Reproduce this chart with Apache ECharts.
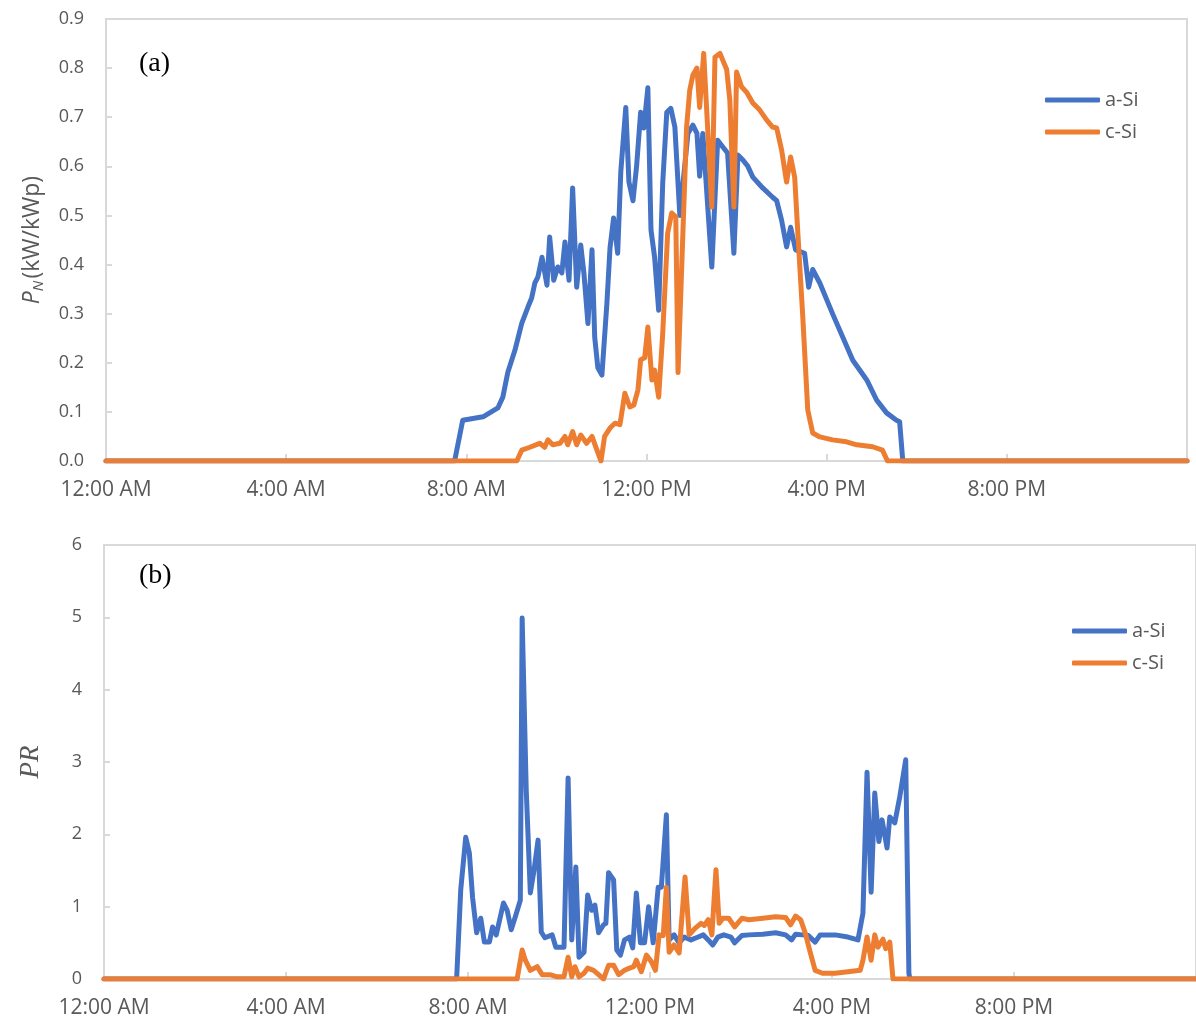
<!DOCTYPE html>
<html>
<head>
<meta charset="utf-8">
<script src="https://cdn.jsdelivr.net/npm/echarts@6/dist/echarts.min.js"></script>
<style>
  html, body { margin: 0; padding: 0; background: #fff; }
  #chart { width: 1196px; height: 1021px; }
</style>
</head>
<body>
<div id="chart"></div>
<script>
// tick labels for the time axis (hours 0,4,8,...)
var timeLabels = ['12:00 AM', '4:00 AM', '8:00 AM', '12:00 PM', '4:00 PM', '8:00 PM', '12:00 AM'];
var seriesNames = ['a-Si', 'c-Si'];

// (a) normalised power, time in hours
var pnTimeA = [0, 7.74, 7.92, 8.37, 8.70, 8.81, 8.92, 9.08, 9.23, 9.37, 9.45, 9.52, 9.59, 9.68, 9.79, 9.85, 9.94, 10.03, 10.12, 10.19, 10.28, 10.36, 10.45, 10.54, 10.61, 10.70, 10.79, 10.85, 10.92, 11.01, 11.12, 11.19, 11.27, 11.36, 11.43, 11.54, 11.61, 11.70, 11.78, 11.87, 11.94, 12.03, 12.10, 12.18, 12.27, 12.36, 12.45, 12.54, 12.63, 12.74, 12.92, 13.03, 13.12, 13.18, 13.25, 13.45, 13.58, 13.69, 13.80, 13.94, 14.03, 14.14, 14.25, 14.36, 14.58, 14.80, 14.89, 15.00, 15.11, 15.20, 15.31, 15.51, 15.60, 15.69, 15.85, 16.13, 16.51, 16.58, 16.89, 17.11, 17.33, 17.55, 17.62, 17.69, 24];
var pnASi = [0, 0, 0.083, 0.09, 0.108, 0.13, 0.18, 0.226, 0.28, 0.314, 0.332, 0.362, 0.375, 0.415, 0.358, 0.456, 0.368, 0.395, 0.383, 0.446, 0.368, 0.556, 0.354, 0.44, 0.383, 0.28, 0.43, 0.252, 0.19, 0.175, 0.32, 0.434, 0.495, 0.423, 0.59, 0.72, 0.568, 0.53, 0.6, 0.71, 0.678, 0.76, 0.47, 0.415, 0.307, 0.566, 0.71, 0.718, 0.68, 0.5, 0.667, 0.684, 0.667, 0.58, 0.667, 0.395, 0.653, 0.64, 0.627, 0.423, 0.623, 0.613, 0.6, 0.578, 0.556, 0.537, 0.53, 0.49, 0.436, 0.476, 0.43, 0.423, 0.354, 0.39, 0.362, 0.3, 0.22, 0.205, 0.165, 0.124, 0.098, 0.083, 0.08, 0, 0];
var pnTimeC = [0, 9.12, 9.23, 9.41, 9.63, 9.74, 9.81, 9.92, 10.08, 10.19, 10.25, 10.36, 10.45, 10.54, 10.67, 10.79, 10.90, 10.99, 11.07, 11.19, 11.30, 11.41, 11.52, 11.63, 11.72, 11.81, 11.87, 11.96, 12.03, 12.12, 12.18, 12.27, 12.36, 12.47, 12.56, 12.65, 12.70, 12.89, 12.96, 13.03, 13.12, 13.18, 13.27, 13.45, 13.52, 13.63, 13.78, 13.85, 13.94, 14.00, 14.11, 14.23, 14.36, 14.51, 14.67, 14.80, 14.89, 15.00, 15.11, 15.20, 15.29, 15.36, 15.47, 15.58, 15.69, 15.85, 16.13, 16.44, 16.67, 17.02, 17.24, 17.35, 24];
var pnCSi = [0, 0, 0.022, 0.028, 0.036, 0.028, 0.043, 0.033, 0.036, 0.05, 0.033, 0.06, 0.033, 0.053, 0.036, 0.05, 0.022, 0, 0.05, 0.067, 0.077, 0.074, 0.138, 0.11, 0.114, 0.145, 0.206, 0.21, 0.273, 0.165, 0.185, 0.13, 0.26, 0.464, 0.505, 0.497, 0.18, 0.68, 0.755, 0.786, 0.8, 0.72, 0.83, 0.517, 0.822, 0.83, 0.797, 0.735, 0.517, 0.792, 0.762, 0.75, 0.729, 0.715, 0.694, 0.68, 0.678, 0.633, 0.568, 0.619, 0.578, 0.464, 0.293, 0.104, 0.057, 0.049, 0.043, 0.039, 0.033, 0.029, 0.022, 0, 0];

// (b) performance ratio
var prTimeA = [0, 7.75, 7.84, 7.95, 8.03, 8.10, 8.19, 8.28, 8.36, 8.47, 8.54, 8.62, 8.78, 8.86, 8.95, 9.04, 9.15, 9.19, 9.28, 9.37, 9.45, 9.54, 9.61, 9.69, 9.85, 9.93, 10.11, 10.20, 10.28, 10.37, 10.44, 10.55, 10.63, 10.72, 10.79, 10.87, 10.98, 11.03, 11.09, 11.20, 11.27, 11.35, 11.44, 11.55, 11.62, 11.70, 11.79, 11.88, 11.97, 12.07, 12.18, 12.25, 12.36, 12.42, 12.53, 12.64, 12.75, 12.90, 13.06, 13.17, 13.28, 13.38, 13.49, 13.62, 13.78, 13.86, 14.02, 14.17, 14.48, 14.76, 14.98, 15.11, 15.20, 15.35, 15.48, 15.63, 15.74, 16.07, 16.35, 16.57, 16.68, 16.77, 16.86, 16.94, 17.03, 17.10, 17.21, 17.27, 17.38, 17.49, 17.62, 17.69, 17.71, 24];
var prASi = [0, 0, 1.23, 1.96, 1.74, 1.13, 0.64, 0.84, 0.51, 0.51, 0.72, 0.61, 1.05, 0.95, 0.68, 0.86, 1.09, 4.99, 2.61, 1.19, 1.5, 1.92, 0.65, 0.57, 0.61, 0.44, 0.44, 2.78, 0.54, 1.55, 0.3, 0.37, 1.16, 0.95, 1.02, 0.64, 0.75, 0.77, 1.47, 1.37, 0.4, 0.33, 0.54, 0.58, 0.43, 1.19, 0.5, 0.5, 1.0, 0.5, 1.27, 1.27, 2.27, 0.54, 0.61, 0.5, 0.58, 0.54, 0.58, 0.61, 0.54, 0.47, 0.58, 0.61, 0.58, 0.5, 0.6, 0.61, 0.62, 0.64, 0.61, 0.54, 0.62, 0.61, 0.6, 0.51, 0.61, 0.61, 0.58, 0.54, 0.91, 2.86, 1.2, 2.57, 1.9, 2.2, 1.81, 2.24, 2.16, 2.52, 3.03, 0.08, 0, 0];
var prTimeC = [0, 9.08, 9.19, 9.26, 9.37, 9.52, 9.63, 9.80, 9.96, 10.11, 10.20, 10.28, 10.35, 10.44, 10.55, 10.63, 10.76, 10.87, 10.98, 11.09, 11.20, 11.31, 11.44, 11.55, 11.64, 11.70, 11.81, 11.92, 12.03, 12.12, 12.20, 12.29, 12.36, 12.42, 12.53, 12.64, 12.77, 12.86, 12.99, 13.12, 13.19, 13.28, 13.36, 13.45, 13.52, 13.60, 13.73, 13.86, 14.02, 14.17, 14.48, 14.76, 14.98, 15.09, 15.20, 15.31, 15.41, 15.52, 15.63, 15.79, 16.07, 16.35, 16.62, 16.68, 16.77, 16.86, 16.94, 17.01, 17.12, 17.18, 17.27, 17.34, 24];
var prCSi = [0, 0, 0.4, 0.26, 0.12, 0.17, 0.06, 0.06, 0.03, 0.03, 0.3, 0.03, 0.17, 0.03, 0.08, 0.15, 0.12, 0.06, 0, 0.19, 0.19, 0.06, 0.12, 0.15, 0.17, 0.26, 0.1, 0.33, 0.24, 0.12, 0.61, 0.6, 1.27, 0.37, 0.47, 0.36, 1.41, 0.61, 0.7, 0.77, 0.74, 0.82, 0.61, 1.51, 0.77, 0.84, 0.84, 0.72, 0.84, 0.82, 0.84, 0.86, 0.85, 0.75, 0.87, 0.82, 0.64, 0.37, 0.12, 0.08, 0.08, 0.1, 0.12, 0.26, 0.58, 0.26, 0.61, 0.44, 0.55, 0.42, 0.51, 0, 0];

var BLUE = '#4472C4';
var ORANGE = '#ED7D31';
var GREY = '#d9d9d9';
var TEXT = '#595959';
var FONT = 'Open Sans';

function pairs(xs, ys) {
    return xs.map(function (x, i) { return [x, ys[i]]; });
}

function timeAxis(gridIndex) {
    return {
        type: 'value',
        gridIndex: gridIndex,
        min: 0,
        max: 24,
        interval: 4,
        axisLine: { lineStyle: { color: GREY, width: 2 } },
        axisTick: { inside: true, length: 7, lineStyle: { color: GREY, width: 2 } },
        splitLine: { show: false },
        axisLabel: {
            color: TEXT,
            fontFamily: FONT,
            fontSize: 21,
            margin: 19,
            showMaxLabel: false,
            formatter: function (v) { return v >= 24 ? '' : timeLabels[v / 4]; }
        }
    };
}

function valueAxis(gridIndex, max, interval, digits, name, rich) {
    return {
        type: 'value',
        gridIndex: gridIndex,
        min: 0,
        max: max,
        interval: interval,
        axisLine: { show: true, lineStyle: { color: GREY, width: 2 } },
        axisTick: { show: true, inside: true, length: 6, lineStyle: { color: GREY, width: 2 } },
        splitLine: { show: false },
        axisLabel: {
            color: TEXT,
            fontFamily: FONT,
            fontSize: 18,
            margin: 22,
            formatter: function (v) { return v.toFixed(digits); }
        },
        name: name,
        nameLocation: 'middle',
        nameRotate: 90,
        nameGap: 60,
        nameTextStyle: { color: TEXT, fontFamily: FONT, fontSize: 23, rich: rich }
    };
}

function lineSeries(name, color, xi, data) {
    return {
        name: name,
        type: 'line',
        xAxisIndex: xi,
        yAxisIndex: xi,
        data: data,
        showSymbol: false,
        symbol: 'none',
        animation: false,
        lineStyle: { color: color, width: 5, join: 'round', cap: 'round' },
        itemStyle: { color: color }
    };
}

function legendAt(left, top) {
    return {
        data: seriesNames,
        orient: 'vertical',
        left: left,
        top: top,
        padding: 0,
        icon: 'roundRect',
        itemWidth: 55,
        itemHeight: 5,
        itemGap: 12,
        textStyle: { color: TEXT, fontFamily: FONT, fontSize: 20 }
    };
}

var chart = echarts.init(document.getElementById('chart'));

var option = {
    backgroundColor: '#fff',
    animation: false,
    grid: [
        { left: 106, top: 19, width: 1081, height: 442, show: true, borderColor: GREY, borderWidth: 2 },
        { left: 104, top: 545, width: 1099, height: 434, show: true, borderColor: GREY, borderWidth: 2 }
    ],
    xAxis: [timeAxis(0), timeAxis(1)],
    yAxis: [
        valueAxis(0, 0.9, 0.1, 1, '{p|P}{sub|N}{n|(kW/kWp)}', {
            p: { fontStyle: 'italic', fontSize: 23, fontFamily: FONT, color: TEXT },
            sub: { fontStyle: 'italic', fontSize: 15, fontFamily: FONT, color: TEXT, verticalAlign: 'bottom', padding: [12, 2, 0, 0] },
            n: { fontSize: 23, fontFamily: FONT, color: TEXT }
        }),
        valueAxis(1, 6, 1, 0, '{pr|PR}', {
            pr: { fontStyle: 'italic', fontSize: 27, fontFamily: 'Liberation Serif', color: TEXT }
        })
    ],
    legend: [legendAt(1045, 90), legendAt(1072, 621)],
    graphic: [
        { type: 'text', left: 139, top: 50, style: { text: '(a)', fontFamily: 'Liberation Serif', fontSize: 28, fill: '#000' } },
        { type: 'text', left: 139, top: 562, style: { text: '(b)', fontFamily: 'Liberation Serif', fontSize: 28, fill: '#000' } }
    ],
    series: [
        lineSeries('a-Si', BLUE, 0, pairs(pnTimeA, pnASi)),
        lineSeries('c-Si', ORANGE, 0, pairs(pnTimeC, pnCSi)),
        lineSeries('a-Si', BLUE, 1, pairs(prTimeA, prASi)),
        lineSeries('c-Si', ORANGE, 1, pairs(prTimeC, prCSi))
    ]
};

chart.setOption(option);
</script>
</body>
</html>
